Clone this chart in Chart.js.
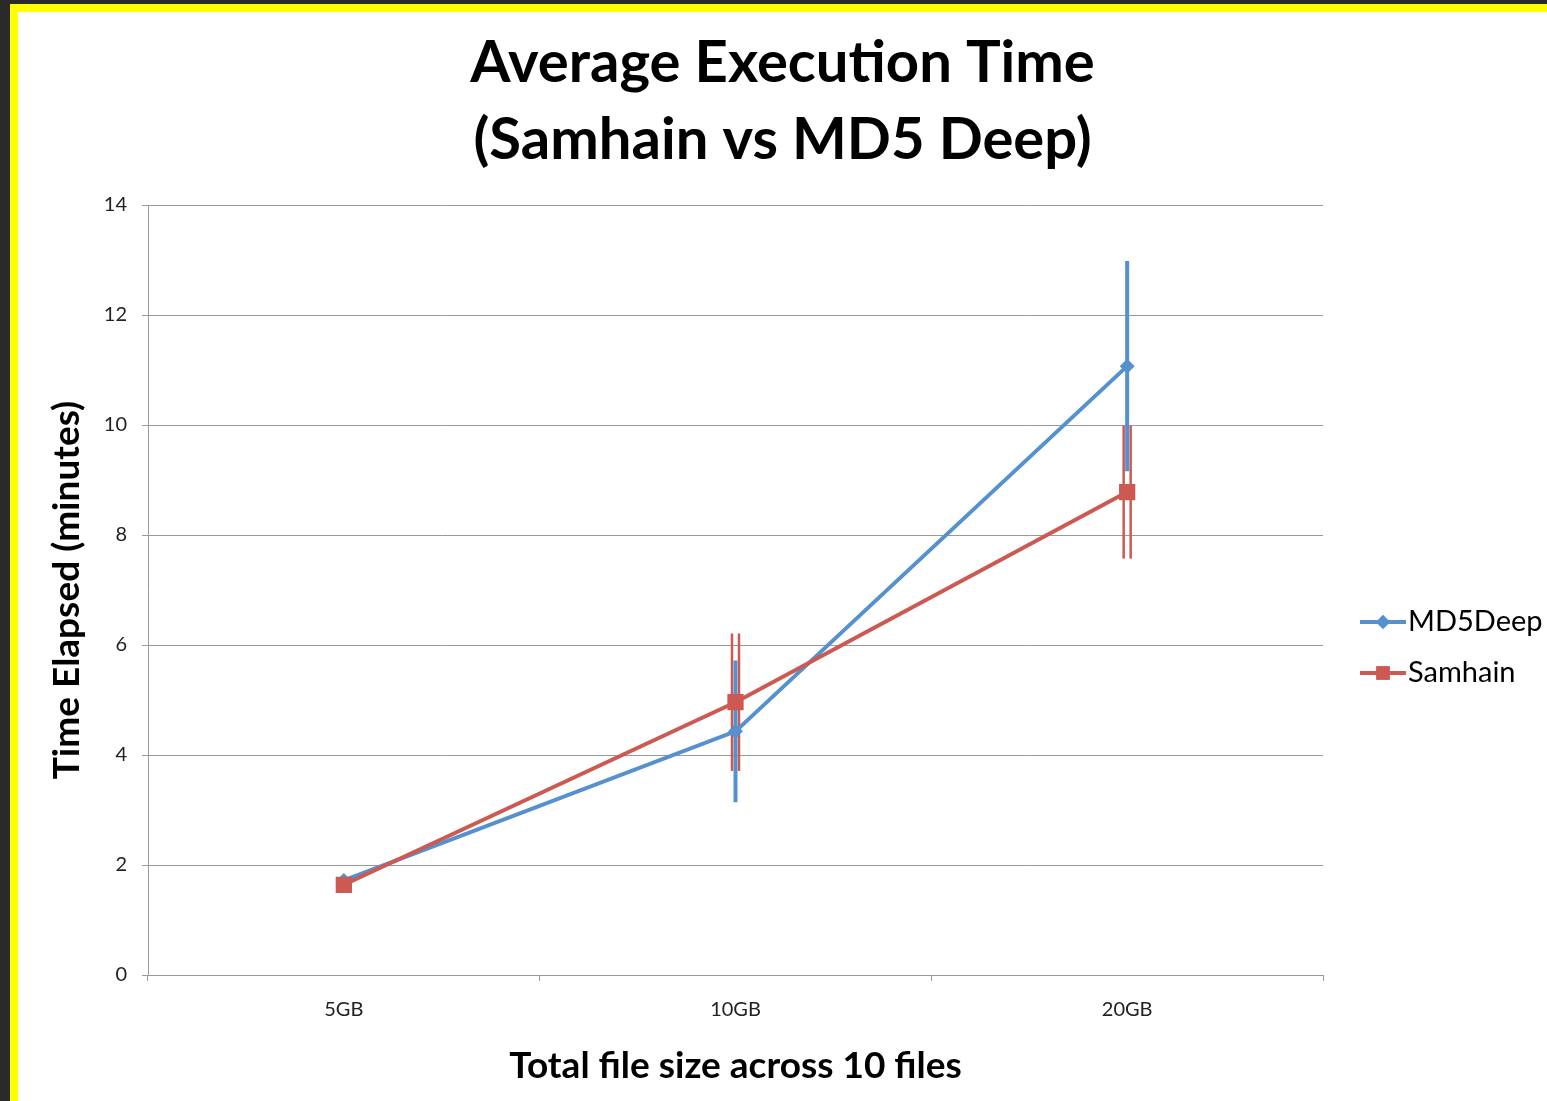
<!DOCTYPE html>
<html>
<head>
<meta charset="utf-8">
<script src="https://cdn.jsdelivr.net/npm/chart.js@4.4.1/dist/chart.umd.min.js"></script>
<style>
  html, body { margin: 0; padding: 0; background: #2a2a2a; }
  body { width: 1547px; height: 1101px; overflow: hidden; position: relative; }
  #frame { position: absolute; left: 10px; top: 4px; width: 1537px; height: 1097px; background: #ffff00; }
  #sheet { position: absolute; left: 8px; top: 8px; width: 1529px; height: 1089px; background: #ffffff; }
  canvas { display: block; }
</style>
</head>
<body>
<div id="frame"><div id="sheet"><canvas id="chart" width="1529" height="1089"></canvas></div></div>
<script>
// categories and series
const sizes = ['5GB', '10GB', '20GB'];
const md5deepTime = [1.72, 4.43, 11.07];
const md5deepErr = [0, 1.29, 1.91];
const samhainTime = [1.64, 4.96, 8.78];
const samhainErr = [0, 1.25, 1.21];

const blue = '#5590cf';
const red = '#cc5a52';
const font = 'Lato, "Open Sans", sans-serif';

// error bars drawn through the y scale
const errorBars = {
    id: 'errorBars',
    beforeDatasetsDraw(chart) {
        const ctx = chart.ctx;
        const y = chart.scales.y;
        chart.data.datasets.forEach((ds, i) => {
            const meta = chart.getDatasetMeta(i);
            meta.data.forEach((pt, j) => {
                const e = ds.errors[j];
                if (!e) return;
                const top = y.getPixelForValue(ds.data[j] + e);
                const bot = y.getPixelForValue(ds.data[j] - e);
                ctx.save();
                ctx.strokeStyle = ds.borderColor;
                ctx.lineCap = 'butt';
                if (ds.doubleBar) {
                    ctx.lineWidth = 2.5;
                    [-3.5, 3.5].forEach(dx => {
                        ctx.beginPath();
                        ctx.moveTo(pt.x + dx, top);
                        ctx.lineTo(pt.x + dx, bot);
                        ctx.stroke();
                    });
                } else {
                    ctx.lineWidth = 4;
                    ctx.beginPath();
                    ctx.moveTo(pt.x, top);
                    ctx.lineTo(pt.x, bot);
                    ctx.stroke();
                }
                ctx.restore();
            });
        });
    }
};

// legend with a line sample and marker, to the right of the plot
const sideLegend = {
    id: 'sideLegend',
    afterDraw(chart) {
        const ctx = chart.ctx;
        const x0 = chart.chartArea.right + 37;
        const rows = [610, 661];
        // legend order follows the series order
        const items = [chart.data.datasets[1], chart.data.datasets[0]];
        items.forEach((ds, i) => {
            const yy = rows[i];
            ctx.save();
            ctx.strokeStyle = ds.borderColor;
            ctx.lineWidth = 4;
            ctx.beginPath();
            ctx.moveTo(x0, yy);
            ctx.lineTo(x0 + 46, yy);
            ctx.stroke();
            ctx.fillStyle = ds.borderColor;
            Chart.helpers.drawPoint(ctx, {
                pointStyle: ds.pointStyle,
                radius: ds.pointStyle === 'rect' ? 9.5 : 7,
                rotation: 0,
                borderWidth: 0
            }, x0 + 23, yy);
            ctx.fill();
            ctx.fillStyle = '#000';
            ctx.font = '29px ' + font;
            ctx.textBaseline = 'middle';
            ctx.fillText(ds.label, x0 + 48, yy);
            ctx.restore();
        });
    }
};

new Chart(document.getElementById('chart'), {
    type: 'line',
    data: {
        labels: sizes,
        datasets: [
            {
                label: 'Samhain',
                data: samhainTime,
                errors: samhainErr,
                doubleBar: true,
                borderColor: red,
                backgroundColor: red,
                borderWidth: 4,
                pointStyle: 'rect',
                pointRadius: 11.5,
                pointBorderWidth: 0,
                tension: 0,
                order: 1
            },
            {
                label: 'MD5Deep',
                data: md5deepTime,
                errors: md5deepErr,
                doubleBar: false,
                borderColor: blue,
                backgroundColor: blue,
                borderWidth: 4,
                pointStyle: 'rectRot',
                pointRadius: 7.5,
                pointBorderWidth: 0,
                tension: 0,
                order: 2
            }
        ]
    },
    options: {
        responsive: false,
        animation: false,
        layout: { padding: 0 },
        plugins: {
            legend: { display: false },
            tooltip: { enabled: false },
            title: {
                display: true,
                text: ['Average Execution Time', '(Samhain vs MD5 Deep)'],
                color: '#000',
                font: { family: font, size: 58, weight: 'bold', lineHeight: 77 / 58 },
                padding: { top: 12.5, bottom: 26.5 }
            }
        },
        scales: {
            x: {
                offset: true,
                afterFit(scale) { scale.height = 126; },
                grid: { offset: true, drawOnChartArea: false, drawTicks: true, tickLength: 6, color: '#999' },
                border: { color: '#999', width: 1 },
                ticks: { color: '#222', font: { family: font, size: 20 }, padding: 17 },
                title: {
                    display: true,
                    text: 'Total file size across 10 files',
                    color: '#000',
                    font: { family: font, size: 37, weight: 'bold', lineHeight: 1.2 },
                    padding: { top: 0, bottom: 12.8 }
                }
            },
            y: {
                min: 0,
                max: 14,
                afterFit(scale) { scale.width = 130; },
                grid: { color: '#999', tickLength: 6 },
                border: { color: '#999', width: 1 },
                ticks: { stepSize: 2, color: '#222', font: { family: font, size: 20 }, padding: 15 },
                title: {
                    display: true,
                    text: 'Time Elapsed (minutes)',
                    color: '#000',
                    font: { family: font, size: 37, weight: 'bold', lineHeight: 1.2 },
                    padding: { top: 26.8, bottom: 0 }
                }
            },
            // empty right-hand space that holds the legend
            legendSpace: {
                position: 'right',
                afterFit(scale) { scale.width = 224; },
                grid: { display: false, drawOnChartArea: false },
                border: { display: false },
                ticks: { display: false }
            }
        }
    },
    plugins: [errorBars, sideLegend]
});
</script>
</body>
</html>
